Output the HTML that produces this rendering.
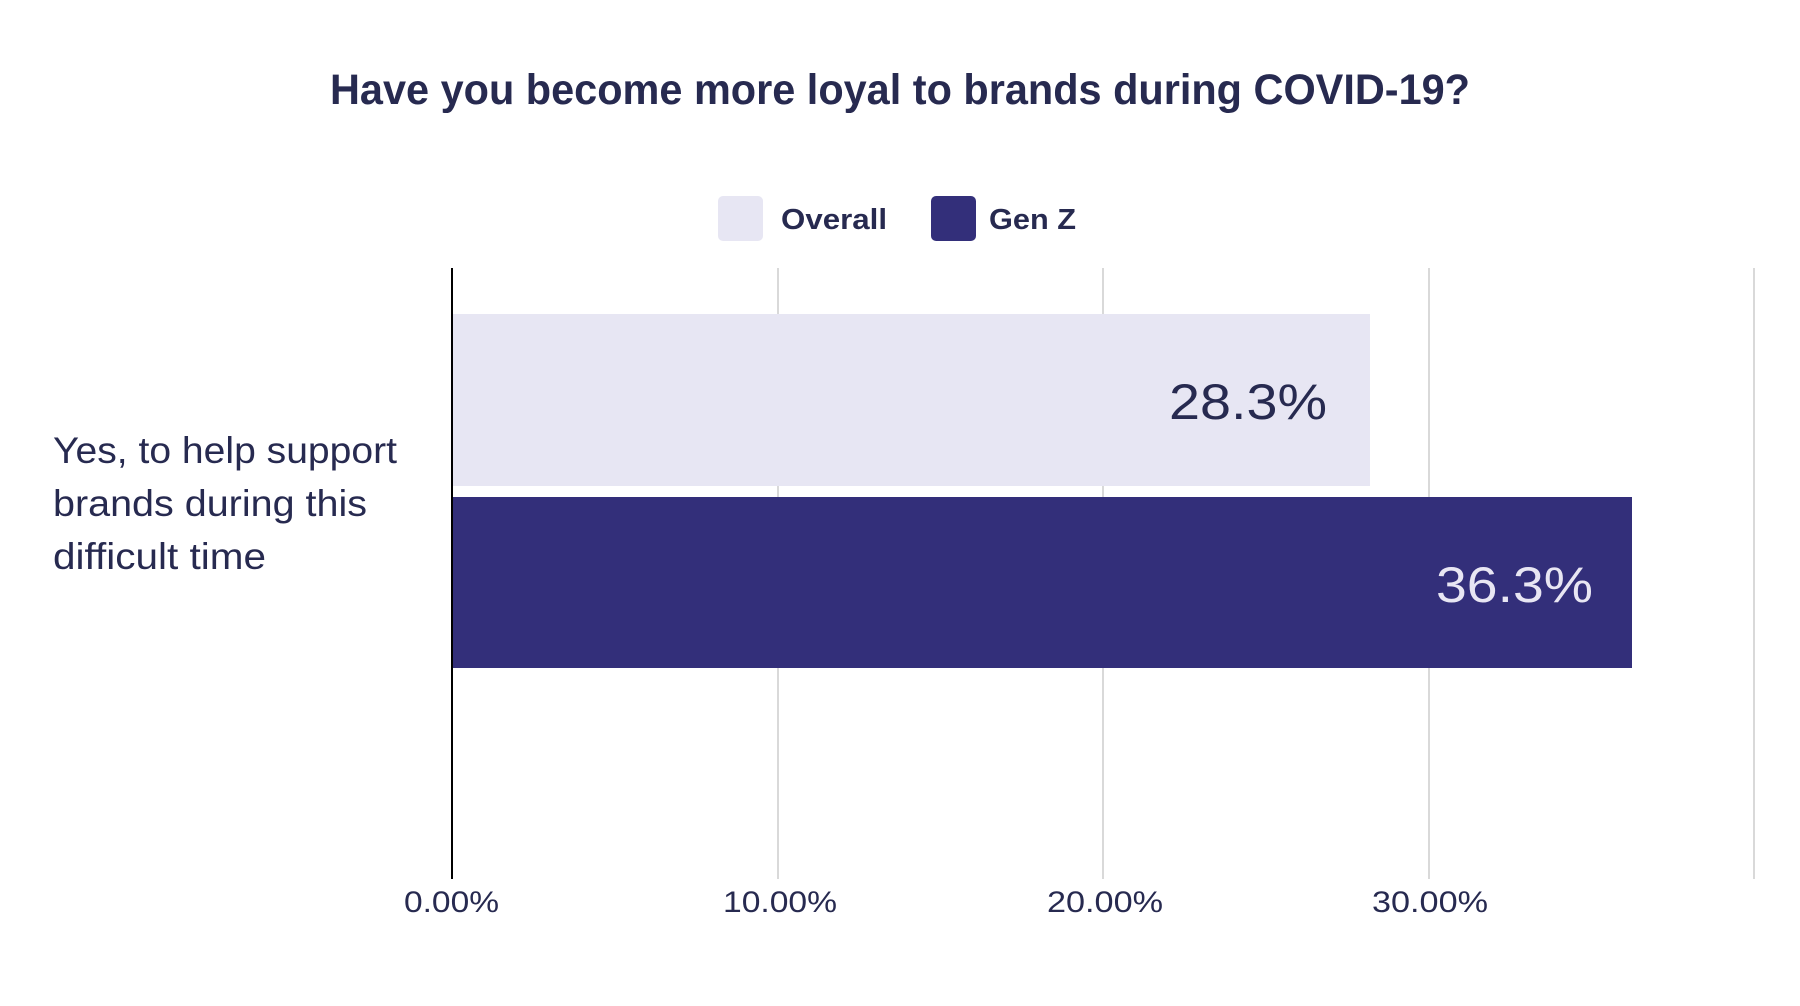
<!DOCTYPE html>
<html>
<head>
<meta charset="utf-8">
<style>
  html,body{margin:0;padding:0;background:#ffffff;}
  svg{display:block;}
  text{font-family:"Liberation Sans",sans-serif;}
</style>
</head>
<body>
<svg width="1800" height="1006" viewBox="0 0 1800 1006" xmlns="http://www.w3.org/2000/svg">
  <rect x="0" y="0" width="1800" height="1006" fill="#ffffff"/>

  <!-- Title -->
  <text x="330" y="104" font-size="43" font-weight="bold" fill="#272a50" textLength="1140" lengthAdjust="spacingAndGlyphs">Have you become more loyal to brands during COVID-19?</text>

  <!-- Legend -->
  <rect x="718" y="196" width="45" height="45" rx="5" ry="5" fill="#e7e6f3"/>
  <text x="781" y="229" font-size="29" font-weight="bold" fill="#272a50" textLength="106" lengthAdjust="spacingAndGlyphs">Overall</text>
  <rect x="931" y="196" width="45" height="45" rx="5" ry="5" fill="#332f7a"/>
  <text x="989" y="229" font-size="29" font-weight="bold" fill="#272a50" textLength="87" lengthAdjust="spacingAndGlyphs">Gen Z</text>

  <!-- Gridlines -->
  <line x1="778" y1="268" x2="778" y2="879" stroke="#d9d9d9" stroke-width="2"/>
  <line x1="1103" y1="268" x2="1103" y2="879" stroke="#d9d9d9" stroke-width="2"/>
  <line x1="1429" y1="268" x2="1429" y2="879" stroke="#d9d9d9" stroke-width="2"/>
  <line x1="1754" y1="268" x2="1754" y2="879" stroke="#d9d9d9" stroke-width="2"/>

  <!-- Bars -->
  <rect x="453" y="314" width="917" height="172" fill="#e7e6f3"/>
  <rect x="453" y="497" width="1179" height="171" fill="#332f7a"/>

  <!-- Axis line -->
  <line x1="452" y1="268" x2="452" y2="879" stroke="#000000" stroke-width="2"/>

  <!-- Data labels -->
  <text x="1169" y="419" font-size="50" fill="#272a50" textLength="158" lengthAdjust="spacingAndGlyphs">28.3%</text>
  <text x="1436" y="602" font-size="50" fill="#e8e6f3" textLength="157" lengthAdjust="spacingAndGlyphs">36.3%</text>

  <!-- Category label -->
  <text x="53" y="463" font-size="37" fill="#272a50" textLength="344" lengthAdjust="spacingAndGlyphs">Yes, to help support</text>
  <text x="53" y="516" font-size="37" fill="#272a50" textLength="314" lengthAdjust="spacingAndGlyphs">brands during this</text>
  <text x="53" y="569" font-size="37" fill="#272a50" textLength="213" lengthAdjust="spacingAndGlyphs">difficult time</text>

  <!-- X axis labels -->
  <text x="404" y="912" font-size="30" fill="#272a50" textLength="95" lengthAdjust="spacingAndGlyphs">0.00%</text>
  <text x="723" y="912" font-size="30" fill="#272a50" textLength="114" lengthAdjust="spacingAndGlyphs">10.00%</text>
  <text x="1047" y="912" font-size="30" fill="#272a50" textLength="116" lengthAdjust="spacingAndGlyphs">20.00%</text>
  <text x="1372" y="912" font-size="30" fill="#272a50" textLength="116" lengthAdjust="spacingAndGlyphs">30.00%</text>
</svg>
</body>
</html>
